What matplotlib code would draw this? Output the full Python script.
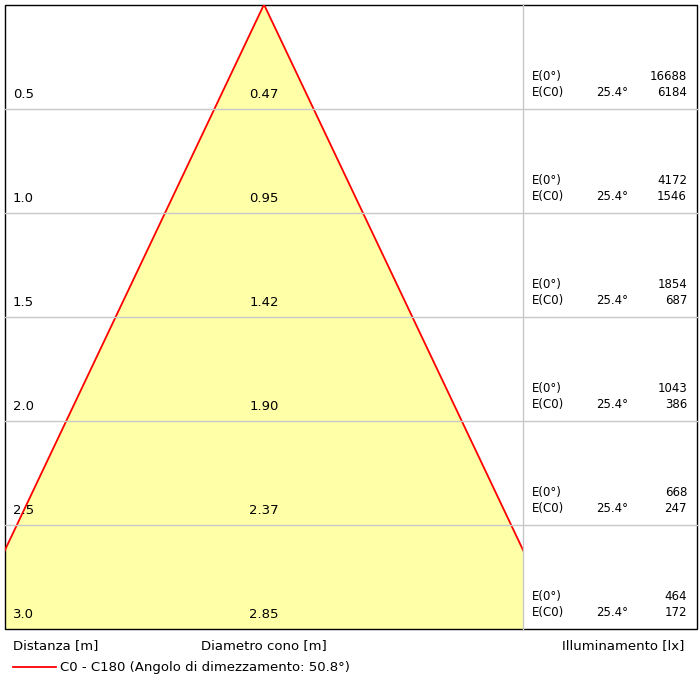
import matplotlib
matplotlib.use("Agg")
import matplotlib.pyplot as plt
from matplotlib.patches import Polygon, Rectangle
import math

distances = [0.5, 1.0, 1.5, 2.0, 2.5, 3.0]
dist_labels = ["0.5", "1.0", "1.5", "2.0", "2.5", "3.0"]
diameters = ["0.47", "0.95", "1.42", "1.90", "2.37", "2.85"]
e0 = [16688, 4172, 1854, 1043, 668, 464]
ec0 = [6184, 1546, 687, 386, 247, 172]
half_angle = "25.4°"
legend_text = "C0 - C180 (Angolo di dimezzamento: 50.8°)"
beam_angle = 50.8

fig = plt.figure(figsize=(7, 7), dpi=100)
ax = fig.add_axes([0, 0, 1, 1])
ax.set_xlim(0, 700); ax.set_ylim(700, 0); ax.axis("off")

L, R, SEP, TOP, BOT = 4.5, 697, 523, 4.5, 629
scale = (BOT - TOP) / distances[-1]
apex_x = 264
t = math.tan(math.radians(beam_angle / 2))
hw = distances[-1] * t * scale
cone = Polygon([(apex_x, TOP), (apex_x - hw, BOT), (apex_x + hw, BOT)], closed=True,
               facecolor="#ffffa8", edgecolor="none")
clip = Rectangle((L, TOP), SEP - L, BOT - TOP, transform=ax.transData)
ax.add_patch(cone); cone.set_clip_path(clip)
l1, = ax.plot([apex_x, apex_x - hw], [TOP, BOT], color="red", lw=1.3)
l1.set_clip_path(clip)
l2, = ax.plot([apex_x, apex_x + hw], [TOP, BOT], color="red", lw=1.3)
l2.set_clip_path(clip)

for d in distances[:-1]:
    y = TOP + d * scale
    ax.plot([L, R], [y, y], color="#c8c8c8", lw=1)
ax.plot([SEP, SEP], [TOP, BOT], color="#c8c8c8", lw=1)
ax.add_patch(Rectangle((L, TOP), R - L, BOT - TOP, fill=False, edgecolor="black", lw=1))

fs = 9.5
for d, dl, dia, a, b in zip(distances, dist_labels, diameters, e0, ec0):
    y = TOP + d * scale
    ax.text(13, y - 8, dl, fontsize=fs, va="bottom")
    ax.text(264, y - 8, dia, fontsize=fs, va="bottom", ha="center")
    ax.text(532, y - 26, "E(0°)", fontsize=8.5, va="bottom")
    ax.text(532, y - 10, "E(C0)", fontsize=8.5, va="bottom")
    ax.text(628, y - 10, half_angle, fontsize=8.5, va="bottom", ha="right")
    ax.text(687, y - 26, str(a), fontsize=8.5, va="bottom", ha="right")
    ax.text(687, y - 10, str(b), fontsize=8.5, va="bottom", ha="right")

ax.text(13, 646, "Distanza [m]", fontsize=fs, va="center")
ax.text(264, 646, "Diametro cono [m]", fontsize=fs, va="center", ha="center")
ax.text(684, 646, "Illuminamento [lx]", fontsize=fs, va="center", ha="right")
ax.plot([13, 56], [667, 667], color="red", lw=1.3)
ax.text(60, 667, legend_text, fontsize=fs, va="center")

fig.savefig("out.png", dpi=100)
